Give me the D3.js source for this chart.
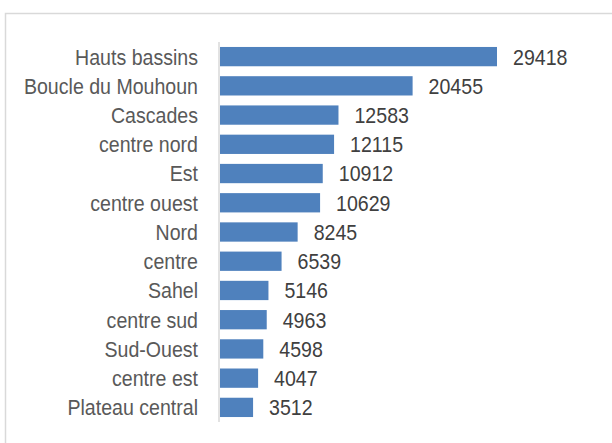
<!DOCTYPE html>
<html>
<head>
<meta charset="utf-8">
<script src="https://cdn.jsdelivr.net/npm/d3@7"></script>
<style>
    body { margin: 0; background: #fff; }
    text { font-family: "Liberation Sans", Arial, sans-serif; }
</style>
</head>
<body>
<div id="chart"></div>
<script>
var regions = ["Hauts bassins", "Boucle du Mouhoun", "Cascades", "centre nord",
               "Est", "centre ouest", "Nord", "centre", "Sahel", "centre sud",
               "Sud-Ouest", "centre est", "Plateau central"];
var counts = [29418, 20455, 12583, 12115, 10912, 10629, 8245, 6539, 5146,
              4963, 4598, 4047, 3512];

(function () {
    "use strict";

    var W = 612, H = 443,
        fsize = 22, squish = 0.89,  //narrow looking font
        svg, x, y, rows;

    svg = d3.select("#chart").append("svg")
        .attr("width", W)
        .attr("height", H);

    //chart frame, runs off the right and bottom edges
    svg.append("rect")
        .attr("x", 5.5).attr("y", 13.5)
        .attr("width", W + 10).attr("height", H + 10)
        .attr("fill", "#fff")
        .attr("stroke", "#d9d9d9")
        .attr("stroke-width", 1.5);

    x = d3.scaleLinear().domain([0, d3.max(counts)]).range([220, 497]);
    y = d3.scaleBand().domain(regions).range([42, 422]).paddingInner(0.34)
        .paddingOuter(0.17);

    rows = svg.append("g").selectAll("g")
        .data(regions)
        .enter().append("g");

    rows.append("rect")
        .attr("x", x(0))
        .attr("y", function (d) { return y(d); })
        .attr("width", function (d, i) { return x(counts[i]) - x(0); })
        .attr("height", y.bandwidth())
        .attr("fill", "#4f81bd");

    rows.append("text")
        .attr("transform", function (d) {
            return "translate(198," + (y(d) + y.bandwidth() / 2) +
                   ") scale(" + squish + ",1)"; })
        .attr("dy", "0.36em")
        .attr("text-anchor", "end")
        .attr("font-size", fsize)
        .attr("fill", "#595959")
        .text(function (d) { return d; });

    rows.append("text")
        .attr("transform", function (d, i) {
            return "translate(" + (x(counts[i]) + 16) + "," +
                   (y(d) + y.bandwidth() / 2) + ") scale(" + squish + ",1)"; })
        .attr("dy", "0.36em")
        .attr("font-size", fsize)
        .attr("fill", "#404040")
        .text(function (d, i) { return counts[i]; });

    //category axis line
    svg.append("line")
        .attr("x1", 219).attr("x2", 219)
        .attr("y1", 42).attr("y2", 422)
        .attr("stroke", "#d9d9d9")
        .attr("stroke-width", 1.5);
}());
</script>
</body>
</html>
